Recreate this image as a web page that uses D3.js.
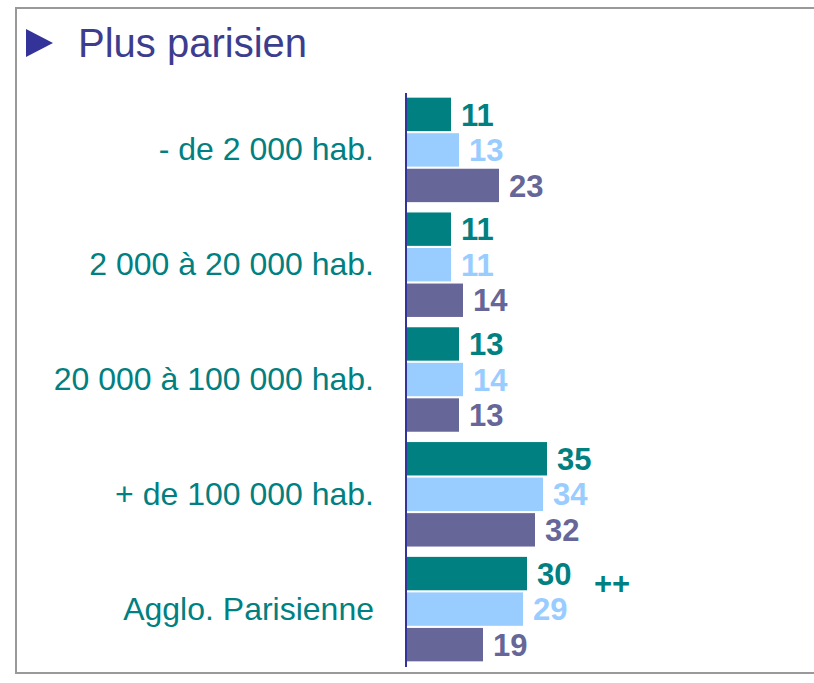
<!DOCTYPE html>
<html>
<head>
<meta charset="utf-8">
<script src="https://cdn.jsdelivr.net/npm/d3@7"></script>
<style>
  body { margin: 0; background: #fff; }
  svg text { font-family: "Liberation Sans", Arial, sans-serif; }
</style>
</head>
<body>
<script>
var WIDTH = 814, HEIGHT = 683;

// categories (taille d'agglomeration)
var categories = ["- de 2 000 hab.", "2 000 à 20 000 hab.", "20 000 à 100 000 hab.",
                  "+ de 100 000 hab.", "Agglo. Parisienne"];
var series = ["s1", "s2", "s3"];
var serie1 = [11, 11, 13, 35, 30];
var serie2 = [13, 11, 14, 34, 29];
var serie3 = [23, 14, 13, 32, 19];
var signif = ["", "", "", "", "++"];
var colors = ["#008080", "#99ccff", "#666699"];
var title = "Plus parisien";

var values = [serie1, serie2, serie3];

var svg = d3.select("body").append("svg")
            .attr("width", WIDTH)
            .attr("height", HEIGHT);

// frame
svg.append("rect")
   .attr("x", 16).attr("y", 8)
   .attr("width", 820).attr("height", 665)
   .style("fill", "none")
   .style("stroke", "#999")
   .style("stroke-width", 2);

// title
svg.append("path")
   .attr("d", "M26,29 L53,43 L26,57 Z")
   .style("fill", "#333399");
svg.append("text")
   .attr("x", 78).attr("y", 57)
   .style("font-size", "40px")
   .style("fill", "#3d3d8f")
   .text(title);

// scales
var x = d3.scaleLinear().domain([0, 40]).range([407, 567]);
var y0 = d3.scaleBand().domain(categories).range([92.5, 666.5])
           .paddingInner(0.09).paddingOuter(0.045);
var y1 = d3.scaleBand().domain(series).range([0, y0.bandwidth()]).paddingInner(0.06);

var groups = svg.selectAll("g.group")
  .data(categories).enter()
  .append("g")
    .attr("class", "group")
    .attr("transform", function (d) { return "translate(0," + y0(d) + ")"; });

var cells = groups.selectAll("g.cell")
  .data(function (d, i) {
    return series.map(function (s, j) { return { s: s, j: j, v: values[j][i] }; });
  }).enter()
  .append("g").attr("class", "cell");

cells.append("rect")
  .attr("x", x(0))
  .attr("y", function (d) { return y1(d.s); })
  .attr("width", function (d) { return x(d.v) - x(0); })
  .attr("height", y1.bandwidth())
  .style("fill", function (d) { return colors[d.j]; });

cells.append("text")
  .attr("x", function (d) { return x(d.v) + 10; })
  .attr("y", function (d) { return y1(d.s) + y1.bandwidth() / 2; })
  .attr("dy", "0.36em")
  .style("font-size", "31px")
  .style("font-weight", "bold")
  .style("fill", function (d) { return colors[d.j]; })
  .text(function (d) { return d.v; });

// significance marks
groups.append("text")
  .attr("x", 594)
  .attr("y", y1("s1") + y1.bandwidth() / 2 + 20)
  .style("font-size", "31px")
  .style("font-weight", "bold")
  .style("fill", colors[0])
  .text(function (d, i) { return signif[i]; });

// category labels
groups.append("text")
  .attr("x", 374)
  .attr("y", y0.bandwidth() / 2)
  .attr("dy", "0.33em")
  .attr("text-anchor", "end")
  .style("font-size", "32px")
  .style("fill", "#008080")
  .text(function (d) { return d; });

// axis line
svg.append("line")
   .attr("x1", 406).attr("x2", 406)
   .attr("y1", 93).attr("y2", 667)
   .style("stroke", "#333399")
   .style("stroke-width", 2);
</script>
</body>
</html>
